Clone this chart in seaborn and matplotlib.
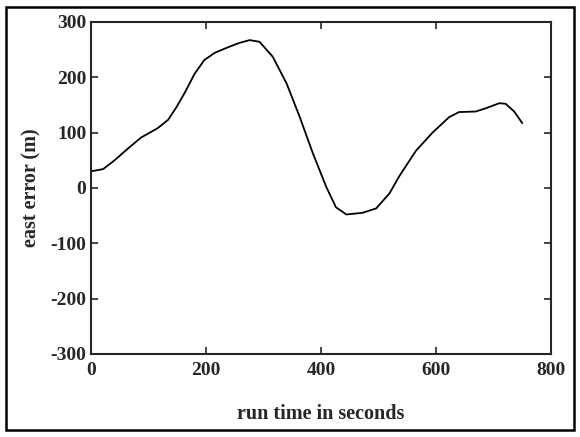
import numpy as np
import pandas as pd
import matplotlib as mpl
mpl.use('Agg')
import matplotlib.pyplot as plt
import seaborn as sns

# run time (s) and east error (m)
run_time = [0, 21, 41, 64, 87, 116, 134, 148, 163, 180, 197, 215, 238, 258, 276,
            293, 316, 340, 363, 386, 409, 426, 444, 472, 496, 519, 536, 565, 594,
            623, 640, 669, 687, 710, 721, 736, 750]
east_error = [30, 34, 50, 71, 91, 108, 123, 145, 172, 206, 231, 244, 254, 262, 267,
              264, 237, 189, 128, 62, 2, -35, -48, -45, -37, -10, 21, 67, 100,
              128, 137, 138, 144, 153, 152, 138, 117]

x_ticks = [0, 200, 400, 600, 800]
y_ticks = [-300, -200, -100, 0, 100, 200, 300]

df = pd.DataFrame({'run_time': run_time, 'east_error': east_error})

sns.set_style('ticks')
plt.rcParams['font.family'] = ['Liberation Serif', 'DejaVu Serif']
plt.rcParams['axes.unicode_minus'] = False
plt.rcParams['xtick.direction'] = 'in'
plt.rcParams['ytick.direction'] = 'in'

fig = plt.figure(figsize=(5.8, 4.37), dpi=100)
ax = fig.add_axes([0.157, 0.19, 0.793, 0.76])

sns.lineplot(data=df, x='run_time', y='east_error', color='black', linewidth=1.3, ax=ax)

ax.set_xlim(0, 800)
ax.set_ylim(-300, 300)
ax.set_xticks(x_ticks)
ax.set_yticks(y_ticks)
ax.tick_params(axis='x', pad=6)
ax.tick_params(top=True, right=True, length=5, width=1.2, labelsize=14)
for lbl in ax.get_xticklabels() + ax.get_yticklabels():
    lbl.set_fontweight('bold')
for s in ax.spines.values():
    s.set_linewidth(1.5)

ax.set_xlabel('run time in seconds', fontsize=14.5, fontweight='bold', labelpad=18)
ax.set_ylabel('east error (m)', fontsize=14.5, fontweight='bold', labelpad=6)

# frame around the whole figure
fig.patches.append(plt.Rectangle((0.01, 0.015), 0.98, 0.97, transform=fig.transFigure,
                                 fill=False, edgecolor='black', linewidth=1.8))

fig.savefig('out.png', dpi=100)
